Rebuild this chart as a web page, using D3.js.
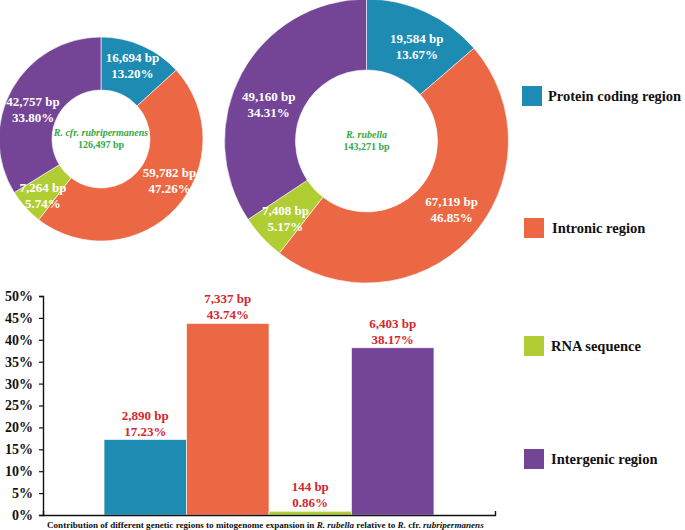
<!DOCTYPE html>
<html>
<head>
<meta charset="utf-8">
<script src="https://cdn.jsdelivr.net/npm/d3@7"></script>
<style>
  body { margin: 0; background: #fff; }
  svg { font-family: "Liberation Serif", "Times New Roman", serif; font-weight: bold; }
</style>
</head>
<body>
<div id="chart-container"></div>
<script>
// data
const regions = ["Protein coding region", "Intronic region", "RNA sequence", "Intergenic region"];
const colors = ["#1e8bb3", "#ec6844", "#b1cd34", "#744596"];

const speciesA = "R. cfr. rubripermanens";
const totalA = "126,497 bp";
const bpA = [16694, 59782, 7264, 42757];
const pctA = ["13.20%", "47.26%", "5.74%", "33.80%"];

const speciesB = "R. rubella";
const totalB = "143,271 bp";
const bpB = [19584, 67119, 7408, 49160];
const pctB = ["13.67%", "46.85%", "5.17%", "34.31%"];

const diffBp = [2890, 7337, 144, 6403];
const diffPct = [17.23, 43.74, 0.86, 38.17];
const yTicks = [0, 5, 10, 15, 20, 25, 30, 35, 40, 45, 50];

// layout: small nudges of the slice labels away from the arc centroid
const nudgeA = [[1, -5], [13, -10], [-2, 5], [-2, 7]];
const nudgeB = [[6, 2], [8, -5], [-3, 5], [-4, 13]];
const legendY = [96, 228, 346, 459];
const legendX = [548, 552, 551, 551];

const width = 685, height = 530;
const fmt = d3.format(",");

const svg = d3.select("#chart-container")
  .append("svg")
  .attr("width", width)
  .attr("height", height);

// Donuts
function donut(cx, cy, rOuter, rInner, values, pcts, name, total, nudge) {
  const g = svg.append("g").attr("transform", `translate(${cx},${cy})`);
  const pie = d3.pie().sort(null).value(d => d);
  const arc = d3.arc().innerRadius(rInner).outerRadius(rOuter);
  const arcs = pie(values);

  g.selectAll("path")
    .data(arcs)
    .join("path")
    .attr("d", arc)
    .attr("fill", (d, i) => colors[i])
    .attr("stroke", "#fff")
    .attr("stroke-width", 0.6);

  const lab = g.selectAll("text.lab")
    .data(arcs)
    .join("text")
    .attr("class", "lab")
    .attr("text-anchor", "middle")
    .attr("fill", "#fff")
    .attr("font-size", 13)
    .attr("transform", (d, i) => {
      const [x, y] = arc.centroid(d);
      return `translate(${x + nudge[i][0]},${y + nudge[i][1]})`;
    });
  lab.append("tspan").attr("x", 0).attr("y", -3).text(d => fmt(d.data) + " bp");
  lab.append("tspan").attr("x", 0).attr("y", 13).text((d, i) => pcts[i]);

  g.append("text")
    .attr("text-anchor", "middle")
    .attr("y", -3)
    .attr("font-size", 10)
    .attr("font-style", "italic")
    .attr("fill", "#35a845")
    .text(name);
  g.append("text")
    .attr("text-anchor", "middle")
    .attr("y", 9)
    .attr("font-size", 10)
    .attr("fill", "#35a845")
    .text(total);
}

donut(101, 139, 102, 49, bpA, pctA, speciesA, totalA, nudgeA);
donut(366.5, 141, 142, 71, bpB, pctB, speciesB, totalB, nudgeB);

// Legend
const legend = svg.append("g");
regions.forEach((r, i) => {
  legend.append("rect")
    .attr("x", i === 0 ? 522 : 524).attr("y", legendY[i] - 10)
    .attr("width", 20).attr("height", 20)
    .attr("fill", colors[i]);
  legend.append("text")
    .attr("x", legendX[i]).attr("y", legendY[i] + 5)
    .attr("font-size", 14.5)
    .attr("fill", "#111")
    .text(r);
});

// Bar chart
const x = d3.scaleBand().domain(regions).range([43, 495]).paddingInner(0).paddingOuter(0.74);
const y = d3.scaleLinear().domain([0, 50]).range([515, 296]);

const bars = svg.append("g");
bars.selectAll("rect")
  .data(regions)
  .join("rect")
  .attr("x", d => x(d))
  .attr("width", x.bandwidth())
  .attr("y", (d, i) => y(diffPct[i]))
  .attr("height", (d, i) => y(0) - y(diffPct[i]))
  .attr("fill", (d, i) => colors[i])
  .attr("stroke", "#fff")
  .attr("stroke-width", 0.6);

const bl = bars.selectAll("text")
  .data(regions)
  .join("text")
  .attr("text-anchor", "middle")
  .attr("font-size", 13)
  .attr("fill", "#d6262c");
bl.append("tspan")
  .attr("x", d => x(d) + x.bandwidth() / 2)
  .attr("y", (d, i) => y(diffPct[i]) - 20)
  .text((d, i) => fmt(diffBp[i]) + " bp");
bl.append("tspan")
  .attr("x", d => x(d) + x.bandwidth() / 2)
  .attr("y", (d, i) => y(diffPct[i]) - 4)
  .text((d, i) => diffPct[i].toFixed(2) + "%");

// Axes
const yAxis = d3.axisLeft(y).tickValues(yTicks).tickSize(4).tickPadding(6).tickFormat(d => d + "%");
const gy = svg.append("g").attr("transform", "translate(43,0)").call(yAxis);
gy.select(".domain").attr("stroke", "#111").attr("stroke-width", 1.4);
gy.selectAll(".tick line").attr("stroke", "#111").attr("stroke-width", 1.2);
gy.selectAll(".tick text")
  .attr("font-size", 14)
  .attr("font-family", "Liberation Serif, serif")
  .attr("font-weight", "bold")
  .attr("fill", "#111");

const xAxis = d3.axisBottom(d3.scaleLinear().domain([0, 1]).range([43, 495])).tickValues([]).tickSizeOuter(-4);
const gx = svg.append("g").attr("transform", `translate(0,${y(0)})`).call(xAxis);
gx.select(".domain").attr("stroke", "#111").attr("stroke-width", 1.4);

// Caption
const cap = svg.append("text")
  .attr("x", 47).attr("y", 528)
  .attr("font-size", 9.1)
  .attr("fill", "#111");
cap.append("tspan").text("Contribution of different genetic regions to mitogenome expansion in ");
cap.append("tspan").attr("font-style", "italic").text("R. rubella");
cap.append("tspan").text(" relative to ");
cap.append("tspan").attr("font-style", "italic").text("R.");
cap.append("tspan").text(" cfr. ");
cap.append("tspan").attr("font-style", "italic").text("rubripermanens");
</script>
</body>
</html>
